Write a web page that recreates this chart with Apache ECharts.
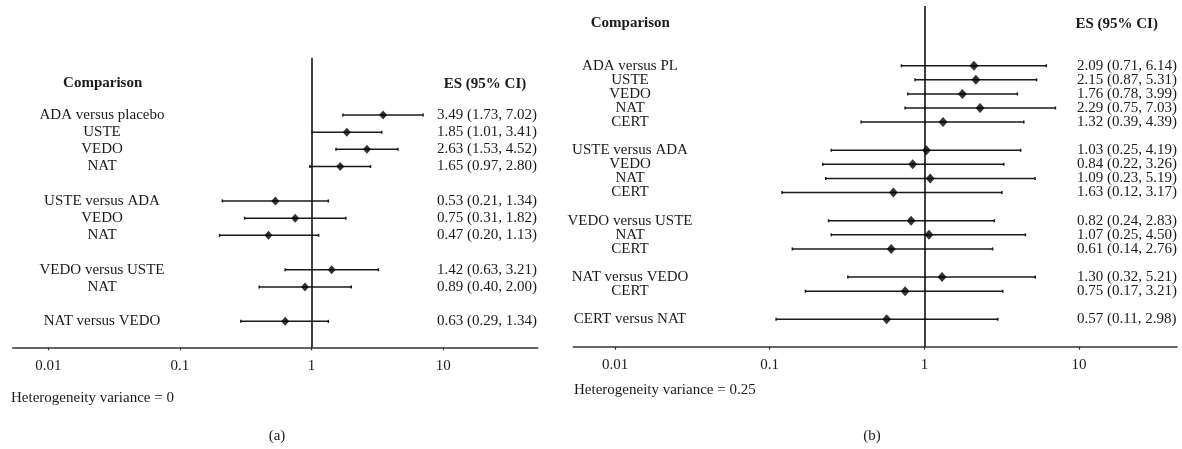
<!DOCTYPE html>
<html>
<head>
<meta charset="utf-8">
<script src="https://cdn.jsdelivr.net/npm/echarts@6/dist/echarts.min.js"></script>
<style>
html,body{margin:0;padding:0;background:#fff;}
#chart{width:1182px;height:449px;}
</style>
</head>
<body>
<div id="chart"></div>
<script>
// ---------- Data ----------
const tickValues = [0.01, 0.1, 1, 10];

// Panel (a)
const rowsA = [0, 1, 2, 3, 5, 6, 7, 9, 10, 12];
const labelsA = ['ADA versus placebo', 'USTE', 'VEDO', 'NAT', 'USTE versus ADA', 'VEDO', 'NAT', 'VEDO versus USTE', 'NAT', 'NAT versus VEDO'];
const esA   = [3.49, 1.85, 2.63, 1.65, 0.53, 0.75, 0.47, 1.42, 0.89, 0.63];
const lowA  = [1.73, 1.01, 1.53, 0.97, 0.21, 0.31, 0.20, 0.63, 0.40, 0.29];
const highA = [7.02, 3.41, 4.52, 2.80, 1.34, 1.82, 1.13, 3.21, 2.00, 1.34];
const textA = esA.map((v, i) => v.toFixed(2) + ' (' + lowA[i].toFixed(2) + ', ' + highA[i].toFixed(2) + ')');

// Panel (b)
const rowsB = [0, 1, 2, 3, 4, 6, 7, 8, 9, 11, 12, 13, 15, 16, 18];
const labelsB = ['ADA versus PL', 'USTE', 'VEDO', 'NAT', 'CERT', 'USTE versus ADA', 'VEDO', 'NAT', 'CERT', 'VEDO versus USTE', 'NAT', 'CERT', 'NAT versus VEDO', 'CERT', 'CERT versus NAT'];
const esB   = [2.09, 2.15, 1.76, 2.29, 1.32, 1.03, 0.84, 1.09, 0.63, 0.82, 1.07, 0.61, 1.30, 0.75, 0.57];
const lowB  = [0.71, 0.87, 0.78, 0.75, 0.39, 0.25, 0.22, 0.23, 0.12, 0.24, 0.25, 0.14, 0.32, 0.17, 0.11];
const highB = [6.14, 5.31, 3.99, 7.03, 4.39, 4.19, 3.26, 5.19, 3.17, 2.83, 4.50, 2.76, 5.21, 3.21, 2.98];
const textB = ['2.09 (0.71, 6.14)', '2.15 (0.87, 5.31)', '1.76 (0.78, 3.99)', '2.29 (0.75, 7.03)', '1.32 (0.39, 4.39)',
               '1.03 (0.25, 4.19)', '0.84 (0.22, 3.26)', '1.09 (0.23, 5.19)', '1.63 (0.12, 3.17)',
               '0.82 (0.24, 2.83)', '1.07 (0.25, 4.50)', '0.61 (0.14, 2.76)',
               '1.30 (0.32, 5.21)', '0.75 (0.17, 3.21)', '0.57 (0.11, 2.98)'];

// ---------- Styling ----------
const FONT = "'Liberation Serif', 'Times New Roman', serif";
const TXT = '#1a1a1a';

const chart = echarts.init(document.getElementById('chart'), null, {renderer: 'canvas'});

function xAxisCfg(gridIndex, max) {
  return {
    type: 'log', logBase: 10, gridIndex: gridIndex,
    min: 0.00537, max: max,
    axisLine: {show: true, onZero: false, lineStyle: {color: '#333', width: 1.6}},
    axisTick: {show: true, inside: false, length: 3, customValues: tickValues, lineStyle: {color: '#333', width: 1.2}},
    axisLabel: {show: true, margin: 11, customValues: tickValues, fontFamily: FONT, fontSize: 15, color: TXT,
                formatter: v => String(v)},
    splitLine: {show: false}
  };
}
function yAxisCfg(gridIndex, min, max) {
  return {type: 'value', gridIndex: gridIndex, inverse: true, min: min, max: max, show: false};
}

function ciSeries(idx, rows, low, high) {
  return {
    type: 'custom', xAxisIndex: idx, yAxisIndex: idx, clip: false, silent: true,
    data: rows.map((r, i) => [r, low[i], high[i]]),
    encode: {x: [1, 2], y: 0},
    renderItem: function (params, api) {
      const r = api.value(0);
      const p1 = api.coord([api.value(1), r]);
      const p2 = api.coord([api.value(2), r]);
      const st = {stroke: '#1a1a1a', lineWidth: 1.5};
      return {type: 'group', children: [
        {type: 'line', shape: {x1: p1[0], y1: p1[1], x2: p2[0], y2: p2[1]}, style: st},
        {type: 'line', shape: {x1: p1[0], y1: p1[1] - 1.5, x2: p1[0], y2: p1[1] + 1.5}, style: st},
        {type: 'line', shape: {x1: p2[0], y1: p2[1] - 1.5, x2: p2[0], y2: p2[1] + 1.5}, style: st}
      ]};
    }
  };
}

function textSeries(idx, rows, texts, xPix, align) {
  return {
    type: 'custom', xAxisIndex: idx, yAxisIndex: idx, clip: false, silent: true,
    data: rows.map(r => [1, r]),
    encode: {x: 0, y: 1},
    renderItem: function (params, api) {
      const pt = api.coord([1, api.value(1)]);
      return {type: 'text', x: xPix, y: pt[1],
        style: {text: texts[params.dataIndex], align: align, verticalAlign: 'middle',
                font: '15px ' + FONT, fill: TXT}};
    }
  };
}

function pointSeries(idx, rows, es, size) {
  return {
    type: 'scatter', xAxisIndex: idx, yAxisIndex: idx, silent: true,
    symbol: 'diamond', symbolSize: size,
    itemStyle: {color: '#000'},
    data: rows.map((r, i) => [es[i], r]),
    z: 5,
    markLine: {
      silent: true, symbol: 'none', animation: false,
      label: {show: false},
      lineStyle: {color: '#000', type: 'solid', width: 1.5},
      data: [{xAxis: 1}]
    }
  };
}

function gText(x, y, text, align, bold) {
  return {type: 'text', x: x, y: y,
    style: {text: text, align: align, verticalAlign: 'middle',
            font: (bold ? 'bold ' : '') + '15px ' + FONT, fill: TXT}};
}

const option = {
  backgroundColor: '#fff',
  animation: false,
  grid: [
    {left: 12.7, top: 57.7, width: 525, height: 289.6},
    {left: 573.3, top: 6, width: 603.7, height: 340.7}
  ],
  xAxis: [xAxisCfg(0, 52.1), xAxisCfg(1, 42.95)],
  yAxis: [yAxisCfg(0, -3.33, 13.51), yAxisCfg(1, -4.24, 19.94)],
  series: [
    ciSeries(0, rowsA, lowA, highA),
    pointSeries(0, rowsA, esA, [8, 9]),
    textSeries(0, rowsA, labelsA, 102, 'center'),
    textSeries(0, rowsA, textA, 437, 'left'),
    ciSeries(1, rowsB, lowB, highB),
    pointSeries(1, rowsB, esB, [9, 10]),
    textSeries(1, rowsB, labelsB, 630, 'center'),
    textSeries(1, rowsB, textB, 1077, 'left')
  ],
  graphic: [
    gText(102.7, 83.5, 'Comparison', 'center', true),
    gText(485, 84, 'ES (95% CI)', 'center', true),
    gText(11, 398.3, 'Heterogeneity variance = 0', 'left', false),
    gText(277, 436, '(a)', 'center', false),
    gText(630.3, 23.5, 'Comparison', 'center', true),
    gText(1116.7, 24, 'ES (95% CI)', 'center', true),
    gText(574, 390, 'Heterogeneity variance = 0.25', 'left', false),
    gText(872, 436, '(b)', 'center', false)
  ]
};
chart.setOption(option);
</script>
</body>
</html>
